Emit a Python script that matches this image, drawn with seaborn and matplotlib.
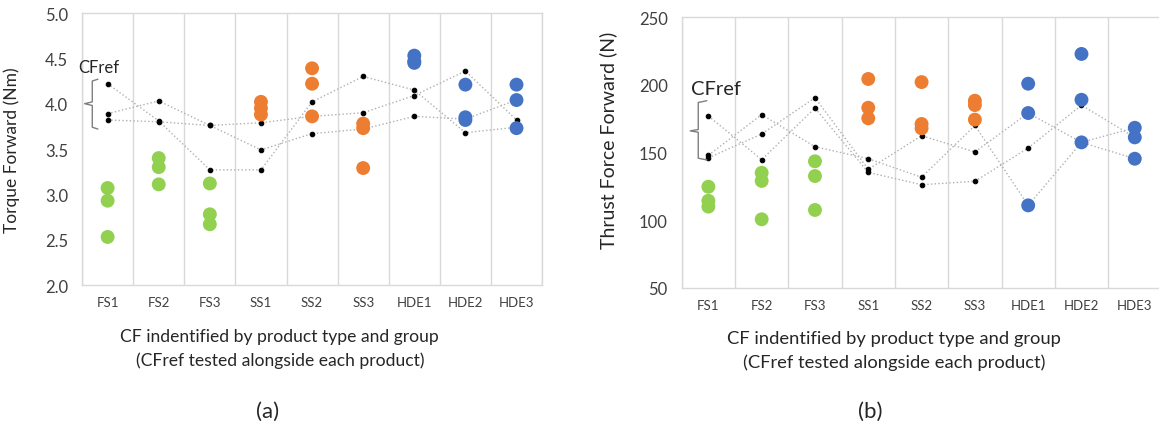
import numpy as np
import pandas as pd
import matplotlib
matplotlib.use("Agg")
import matplotlib.pyplot as plt
import seaborn as sns

sns.set_theme(style="white")
plt.rcParams['font.family'] = ['Lato', 'DejaVu Sans']

categories = ["FS1", "FS2", "FS3", "SS1", "SS2", "SS3", "HDE1", "HDE2", "HDE3"]
groups = ["FS", "FS", "FS", "SS", "SS", "SS", "HDE", "HDE", "HDE"]

# Panel (a): torque forward (Nm) - three product replicates per CF
torque_products = [
    [3.07, 2.93, 2.53],
    [3.40, 3.30, 3.11],
    [3.12, 2.78, 2.67],
    [4.02, 3.95, 3.88],
    [4.39, 4.22, 3.86],
    [3.78, 3.73, 3.29],
    [4.53, 4.47, 4.45],
    [4.21, 3.85, 3.82],
    [4.21, 4.04, 3.73],
]
# CFref tested alongside each product (three replicate series)
torque_ref_a = [4.22, 3.81, 3.27, 3.27, 4.02, 4.30, 4.15, 3.68, 3.74]
torque_ref_b = [3.89, 4.03, 3.76, 3.49, 3.67, 3.72, 3.86, 3.83, 4.04]
torque_ref_c = [3.82, 3.80, 3.76, 3.79, 3.86, 3.90, 4.09, 4.36, 3.82]

# Panel (b): thrust force forward (N)
thrust_products = [
    [124.7, 114.3, 110.0],
    [135.0, 129.0, 100.6],
    [143.5, 132.6, 107.5],
    [204.4, 183.1, 175.3],
    [202.1, 171.1, 167.9],
    [188.3, 185.1, 174.3],
    [200.9, 179.2, 110.9],
    [222.9, 189.0, 157.5],
    [168.3, 161.2, 145.4],
]
thrust_ref_a = [177.0, 144.7, 182.9, 135.3, 126.2, 128.7, 153.3, 185.0, 161.2]
thrust_ref_b = [148.0, 178.0, 154.3, 145.4, 131.7, 170.0, 110.9, 157.5, 168.3]
thrust_ref_c = [146.0, 163.7, 190.5, 137.6, 162.4, 150.4, 179.2, 157.5, 145.4]

palette = {"FS": "#92D050", "SS": "#ED7D31", "HDE": "#4472C4"}
grid_col = "#D9D9D9"
line_col = "#B0B0B0"
tick_col = "#404040"
text_col = "#262626"


def long_df(prod):
    rows = []
    for cat, grp, vals in zip(categories, groups, prod):
        for v in vals:
            rows.append({"cat": cat, "value": v, "grp": grp})
    return pd.DataFrame(rows)


def draw_panel(ax, prod, refs, ylim, yticks, ylabel, ylabel_size, xlabel_size):
    for ref in refs:
        sns.pointplot(x=categories, y=ref, order=categories, ax=ax,
                      color=line_col, markers="o", linestyles=":",
                      markersize=3.3, linewidth=1.0, errorbar=None,
                      markerfacecolor="black", markeredgecolor="black",
                      zorder=2)
    df = long_df(prod)
    sns.stripplot(data=df, x="cat", y="value", hue="grp", order=categories,
                  palette=palette, jitter=False, size=10, linewidth=0,
                  legend=False, ax=ax, zorder=3)
    ax.set_xlim(-0.5, len(categories) - 0.5)
    ax.set_ylim(*ylim)
    ax.set_yticks(yticks)
    ax.set_xticks(np.arange(-0.5, len(categories), 1), minor=True)
    ax.grid(False)
    ax.grid(which="minor", axis="x", color=grid_col, linewidth=1.0)
    ax.set_axisbelow(True)
    for s in ax.spines.values():
        s.set_color(grid_col)
        s.set_linewidth(1.0)
    ax.tick_params(axis="x", which="both", length=0, labelsize=9.5,
                   labelcolor=tick_col, pad=8)
    ax.tick_params(axis="y", which="both", length=0, labelsize=12,
                   labelcolor=tick_col, pad=10)
    ax.set_ylabel(ylabel, fontsize=ylabel_size, color=text_col)
    ax.set_xlabel("CF indentified by product type and group\n(CFref tested alongside each product)",
                  fontsize=xlabel_size, color=text_col, linespacing=1.55)


fig = plt.figure(figsize=(11.59, 4.35), dpi=100)
ax1 = fig.add_axes([0.0708, 0.3425, 0.3969, 0.6253])
ax2 = fig.add_axes([0.5882, 0.3363, 0.4139, 0.6216])

draw_panel(ax1, torque_products, [torque_ref_a, torque_ref_b, torque_ref_c],
           (2.0, 5.0), np.arange(2.0, 5.01, 0.5), "Torque Forward (Nm)", 12.5, 12.6)
ax1.set_yticklabels([f"{v:.1f}" for v in np.arange(2.0, 5.01, 0.5)])
draw_panel(ax2, thrust_products, [thrust_ref_a, thrust_ref_b, thrust_ref_c],
           (50, 250), np.arange(50, 251, 50), "Thrust Force Forward (N)", 14, 13.2)

ax1.yaxis.set_label_coords(-0.135, 0.5)
ax2.yaxis.set_label_coords(-0.135, 0.55)
ax1.xaxis.set_label_coords(0.43, -0.158)
ax2.xaxis.set_label_coords(0.4426, -0.158)

# CFref brace annotations
brace_col = "#7F7F7F"
ax1.plot([-0.19, -0.30, -0.30, -0.45, -0.30, -0.30, -0.19],
         [4.27, 4.25, 4.02, 4.00, 3.98, 3.74, 3.72],
         color=brace_col, linewidth=1.0, clip_on=False, zorder=4)
ax1.text(-0.17, 4.40, "CFref", ha="center", va="center", fontsize=12, color=text_col)
ax2.plot([-0.03, -0.19, -0.19, -0.34, -0.19, -0.19, -0.03],
         [188.3, 187.0, 167.0, 166.0, 165.0, 145.8, 144.5],
         color=brace_col, linewidth=1.0, clip_on=False, zorder=4)
ax2.text(0.14, 197, "CFref", ha="center", va="center", fontsize=14.5, color=text_col)

fig.text(0.2312, 0.053, "(a)", ha="center", va="center", fontsize=16, color=text_col)
fig.text(0.7506, 0.053, "(b)", ha="center", va="center", fontsize=16, color=text_col)

fig.savefig("out.png", dpi=100)
